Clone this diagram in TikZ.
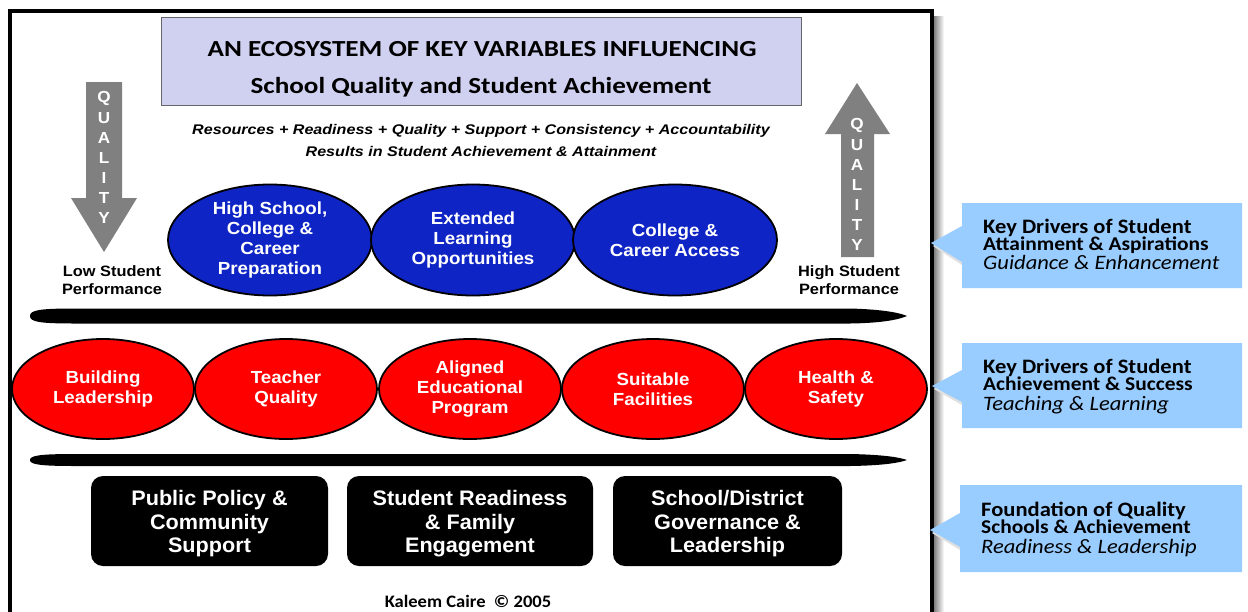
\documentclass[tikz,border=0pt]{standalone}
\usepackage{fontspec}
\setmainfont{Carlito}
\newfontfamily\fTitle[FakeStretch=1.18]{Carlito}
\newfontfamily\fCall[FakeStretch=1.1]{Carlito}
\newfontfamily\fKal[FakeStretch=1.06]{Carlito}
\newfontfamily\fSub[FakeStretch=1.15]{Liberation Sans}
\newfontfamily\fEll[FakeStretch=1.07]{Liberation Sans}
\newfontfamily\fBox[FakeStretch=1.03]{Liberation Sans}
\newfontfamily\fPerf[FakeStretch=1.09]{Liberation Sans}
\usetikzlibrary{shapes.geometric}
\definecolor{lav}{RGB}{208,208,240}
\definecolor{eblue}{RGB}{14,36,196}
\definecolor{callblue}{RGB}{153,204,255}
\definecolor{agray}{RGB}{128,128,128}
\begin{document}
\begin{tikzpicture}[x=1pt,y=-1pt,
  blueell/.style={ellipse, draw=black, line width=1.8pt, fill=eblue, text=white,
    minimum width=204pt, minimum height=111pt, inner sep=0pt, align=center,
    font=\fEll\bfseries\fontsize{17.5}{20}\selectfont},
  redell/.style={ellipse, draw=black, line width=1.8pt, fill=red, text=white,
    minimum width=182pt, minimum height=100pt, inner sep=0pt, align=center,
    font=\fEll\bfseries\fontsize{17.5}{20}\selectfont},
  blackbox/.style={rectangle, rounded corners=12pt, fill=black,
    minimum height=90pt, inner sep=0pt},
  boxtext/.style={text=white, inner sep=0pt, align=center,
    font=\fBox\bfseries\fontsize{21}{23.5}\selectfont},
  titletxt/.style={anchor=base, font=\fTitle\bfseries\fontsize{23}{26}\selectfont},
  subtxt/.style={anchor=base, font=\fSub\bfseries\itshape\fontsize{14}{17}\selectfont},
  qletter/.style={text=white, inner sep=0pt, font=\fEll\bfseries\fontsize{16}{16}\selectfont},
  perf/.style={align=center, inner sep=0pt, font=\fPerf\bfseries\fontsize{15}{18}\selectfont},
  calltxt/.style={anchor=base west, inner sep=0pt, font=\fCall\bfseries\fontsize{20.5}{22}\selectfont},
  calltxtb/.style={anchor=base west, inner sep=0pt, font=\fCall\bfseries\fontsize{19.5}{22}\selectfont},
  callit/.style={anchor=base west, inner sep=0pt, font=\fCall\itshape\fontsize{20.5}{22}\selectfont},
  callshape/.style={fill=callblue},
  callshadow/.style={fill=black!12}
]
\useasboundingbox (0,0) rectangle (1248,611);
\fill[white] (0,0) rectangle (1248,611);

% frame with shadow
\shade[left color=black!50, right color=white] (934,16) rectangle (944,611);
\draw[line width=4pt] (10,625) -- (10,11) -- (932,11) -- (932,625);

% title box
\node[draw=black!60, line width=0.8pt, fill=lav, minimum width=640pt, minimum height=88pt, inner sep=0pt] (tbox) at (481,61) {};
\node[titletxt] (t1) at (482,56) {AN ECOSYSTEM OF KEY VARIABLES INFLUENCING};
\node[titletxt] (t2) at (481,93) {School Quality and Student Achievement};

\node[subtxt] (s1) at (481,134) {Resources + Readiness + Quality + Support + Consistency + Accountability};
\node[subtxt] (s2) at (481,156) {Results in Student Achievement \& Attainment};

% quality arrows
\fill[agray] (86,82) -- (122,82) -- (122,198) -- (137,198) -- (104,252) -- (71,198) -- (86,198) -- cycle;
\fill[agray] (841,257) -- (874,257) -- (874,134) -- (890,134) -- (857,83) -- (825,134) -- (841,134) -- cycle;
\foreach \l [count=\i from 0] in {Q,U,A,L,I,T,Y} {
  \node[qletter] (ql\i) at (104,98+20*\i) {\l};
  \node[qletter] (qr\i) at (857,125+20*\i) {\l};
}
\node[perf] (low) at (112,280) {Low Student\\Performance};
\node[perf] (high) at (849,280) {High Student\\Performance};

% blue ellipses
\node[blueell] (b1) at (270,240) {High School,\\College \&\\Career\\Preparation};
\node[blueell] (b2) at (473,240) {Extended\\Learning\\Opportunities};
\node[blueell] (b3) at (675,240) {College \&\\Career Access};

% lens bars
\fill (30,316) .. controls (30,310) and (40,308.5) .. (75,308.5) -- (850,308.5)
  .. controls (885,309.5) and (900,313) .. (907,316)
  .. controls (900,319) and (885,323) .. (850,323.5) -- (75,323.5)
  .. controls (40,323.5) and (30,322) .. (30,316) -- cycle;
\fill (30,460) .. controls (30,455.5) and (40,454) .. (75,454) -- (850,454)
  .. controls (885,454.7) and (900,457.5) .. (907,460)
  .. controls (900,462.5) and (885,465.5) .. (850,466) -- (75,466)
  .. controls (40,466) and (30,464.5) .. (30,460) -- cycle;

% red ellipses
\node[redell] (r1) at (103,389) {Building\\Leadership};
\node[redell] (r2) at (286,389) {Teacher\\Quality};
\node[redell] (r3) at (470,389) {Aligned\\Educational\\Program};
\node[redell] (r4) at (653,389) {Suitable\\Facilities};
\node[redell] (r5) at (836,389) {Health \&\\Safety};

% black boxes
\node[blackbox, minimum width=237pt] (k1) at (209.5,521) {};
\node[blackbox, minimum width=246pt] (k2) at (470,521) {};
\node[blackbox, minimum width=229pt] (k3) at (727.5,521) {};
\node[boxtext] (k1t) at ([yshift=-3pt]k1.center) {Public Policy \&\\Community\\Support};
\node[boxtext] (k2t) at ([yshift=-3pt]k2.center) {Student Readiness\\\& Family\\Engagement};
\node[boxtext] (k3t) at ([yshift=-3pt]k3.center) {School/District\\Governance \&\\Leadership};

\node[anchor=base, font=\fKal\bfseries\fontsize{17.5}{19}\selectfont] (cr) at (468,607) {Kaleem Caire~~© 2005};

% callouts
\fill[callshadow] (962,229) -- (933,246) -- (962,265) -- cycle;
\fill[callshape] (962,203) -- (1242,203) -- (1242,288) -- (962,288) -- (962,262) -- (931,243) -- (962,226) -- cycle;
\node[calltxt] (c1a) at (983,233) {Key Drivers of Student};
\node[calltxtb] (c1b) at (983,250) {Attainment \& Aspirations};
\node[callit] (c1c) at (983,269) {Guidance \& Enhancement};

\fill[callshadow] (962,373) -- (934,389) -- (962,405) -- cycle;
\fill[callshape] (962,343) -- (1242,343) -- (1242,428) -- (962,428) -- (962,402) -- (932,386) -- (962,370) -- cycle;
\node[calltxt] (c2a) at (983,373) {Key Drivers of Student};
\node[calltxtb] (c2b) at (983,390) {Achievement \& Success};
\node[callit] (c2c) at (983,410) {Teaching \& Learning};

\fill[callshadow] (960,516) -- (932,533) -- (960,550) -- cycle;
\fill[callshape] (960,485) -- (1242,485) -- (1242,572) -- (960,572) -- (960,547) -- (930,530) -- (960,513) -- cycle;
\node[calltxt] (c3a) at (981,516) {Foundation of Quality};
\node[calltxtb] (c3b) at (981,533) {Schools \& Achievement};
\node[callit] (c3c) at (981,553) {Readiness \& Leadership};
\end{tikzpicture}
\end{document}
